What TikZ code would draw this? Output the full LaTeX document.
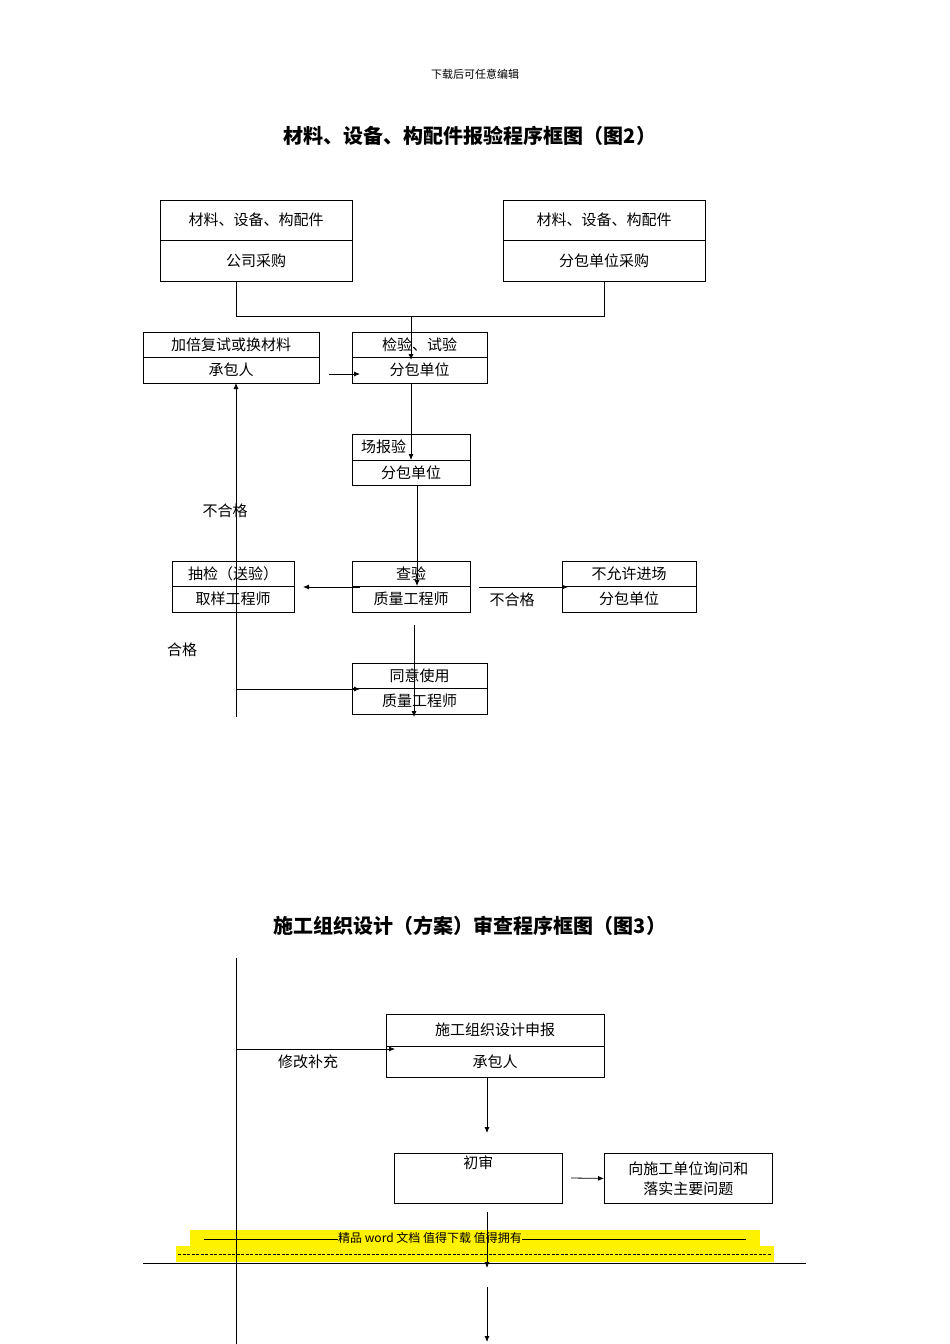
\documentclass[tikz,border=0pt]{standalone}
\usepackage{fontspec}
\setmainfont{Noto Sans CJK SC}
\usetikzlibrary{arrows.meta}
\tikzset{>={Latex[length=6pt,width=5pt]}}
\tikzset{%
  cell/.style={draw, rectangle, inner sep=0pt, font=\fontsize{15}{17}\selectfont},
  lbl/.style={font=\fontsize{15}{17}\selectfont},
  ttl/.style={font=\fontsize{20}{24}\selectfont\bfseries},
  every path/.style={line width=0.8pt},
}
% two-part box: name, left, right, top, mid, bottom, upper text, lower text
\newcommand{\twobox}[8]{%
  \node[cell, minimum width={#3-#2}, minimum height={#5-#4}] (#1t) at ({(#2+#3)/2},{(#4+#5)/2}) {#7};
  \node[cell, minimum width={#3-#2}, minimum height={#6-#5}] (#1b) at ({(#2+#3)/2},{(#5+#6)/2}) {#8};
}
\begin{document}
\begin{tikzpicture}[x=1pt, y=-1pt]
  \useasboundingbox (0,0) rectangle (950,1344);

  % header and titles
  \node[font=\fontsize{11}{13}\selectfont] (head) at (475,74) {下载后可任意编辑};
  \node[ttl] (title2) at (470,136) {材料、设备、构配件报验程序框图（图2）};
  \node[ttl] (title3) at (470,926) {施工组织设计（方案）审查程序框图（图3）};

  % figure 2 boxes
  \twobox{gs}{160}{352}{200}{240}{281}{材料、设备、构配件}{公司采购}
  \twobox{fb}{503}{705}{200}{240}{281}{材料、设备、构配件}{分包单位采购}
  \twobox{jb}{143}{319}{332}{357}{383}{加倍复试或换材料}{承包人}
  \twobox{jy}{352}{487}{332}{357}{383}{检验、试验}{分包单位}
  \twobox{bs}{352}{470}{434}{460}{485}{\hspace*{-55pt}场报验}{分包单位}
  \twobox{cj}{172}{294}{561}{586}{612}{抽检（送验）}{取样工程师}
  \twobox{cy}{352}{470}{561}{586}{612}{查验}{质量工程师}
  \twobox{by}{562}{696}{561}{586}{612}{不允许进场}{分包单位}
  \twobox{ty}{352}{487}{663}{688}{714}{同意使用}{质量工程师}

  % figure 2 connectors
  \coordinate (j0) at (236,281);
  \coordinate (j1) at (236,316);
  \coordinate (j2) at (604,316);
  \coordinate (j3) at (411,316);
  \draw (j0) -- (j1) -- (j2) -- (fbb.south -| j2);
  \draw[->] (j3) -- (411,360);
  \draw[->] (411,383) -- (411,460);
  \draw[->] (417,485) -- (417,586);
  \draw[->] (360,587) -- (303,587);
  \draw[->] (479,587) -- (568,587);
  \draw[->] (236,717) -- (236,383);
  \draw[->] (236,689) -- (360,689);
  \draw[->] (414,625) -- (414,717);
  \draw[->] (329,374) -- (360,374);
  \node[lbl] (ng1) at (225,511) {不合格};
  \node[lbl] (hg) at (182,650) {合格};
  \node[lbl] (ng2) at (512,600) {不合格};

  % figure 3 boxes
  \twobox{sb}{386}{604}{1014}{1046}{1077}{施工组织设计申报}{承包人}
  \node[cell, minimum width=168, minimum height=50, anchor=north west] (cs) at (394,1153) {};
  \node[lbl, anchor=north, inner sep=2pt] (csl) at (cs.north) {初审};
  \node[cell, minimum width=168, minimum height=50, anchor=north west, align=center] (wt) at (604,1153) {向施工单位询问和\\[3pt]落实主要问题};

  % footer band
  \fill[yellow] (190,1230) rectangle (760,1246);
  \fill[yellow] (176,1246) rectangle (774,1262);
  \node[font=\fontsize{12}{13}\selectfont, inner sep=0pt] (band1) at (475,1238) {\rule[3pt]{134pt}{0.5pt}精品 word 文档 值得下载 值得拥有\rule[3pt]{224pt}{0.5pt}};
  \draw[line width=0.5pt, dash pattern=on 3pt off 1.5pt] (178,1254) -- (772,1254);

  % figure 3 connectors
  \draw (236,958) -- (236,1344);
  \draw[->] (236,1049) -- (395,1049);
  \node[lbl] (xg) at (308,1062) {修改补充};
  \draw[->] (487,1077) -- (487,1133);
  \draw[->] (571,1178) -- (wt.west);
  \draw[->] (487,1212) -- (487,1268);
  \draw (143,1263) -- (806,1263);
  \draw[->] (487,1287) -- (487,1342);
\end{tikzpicture}
\end{document}
